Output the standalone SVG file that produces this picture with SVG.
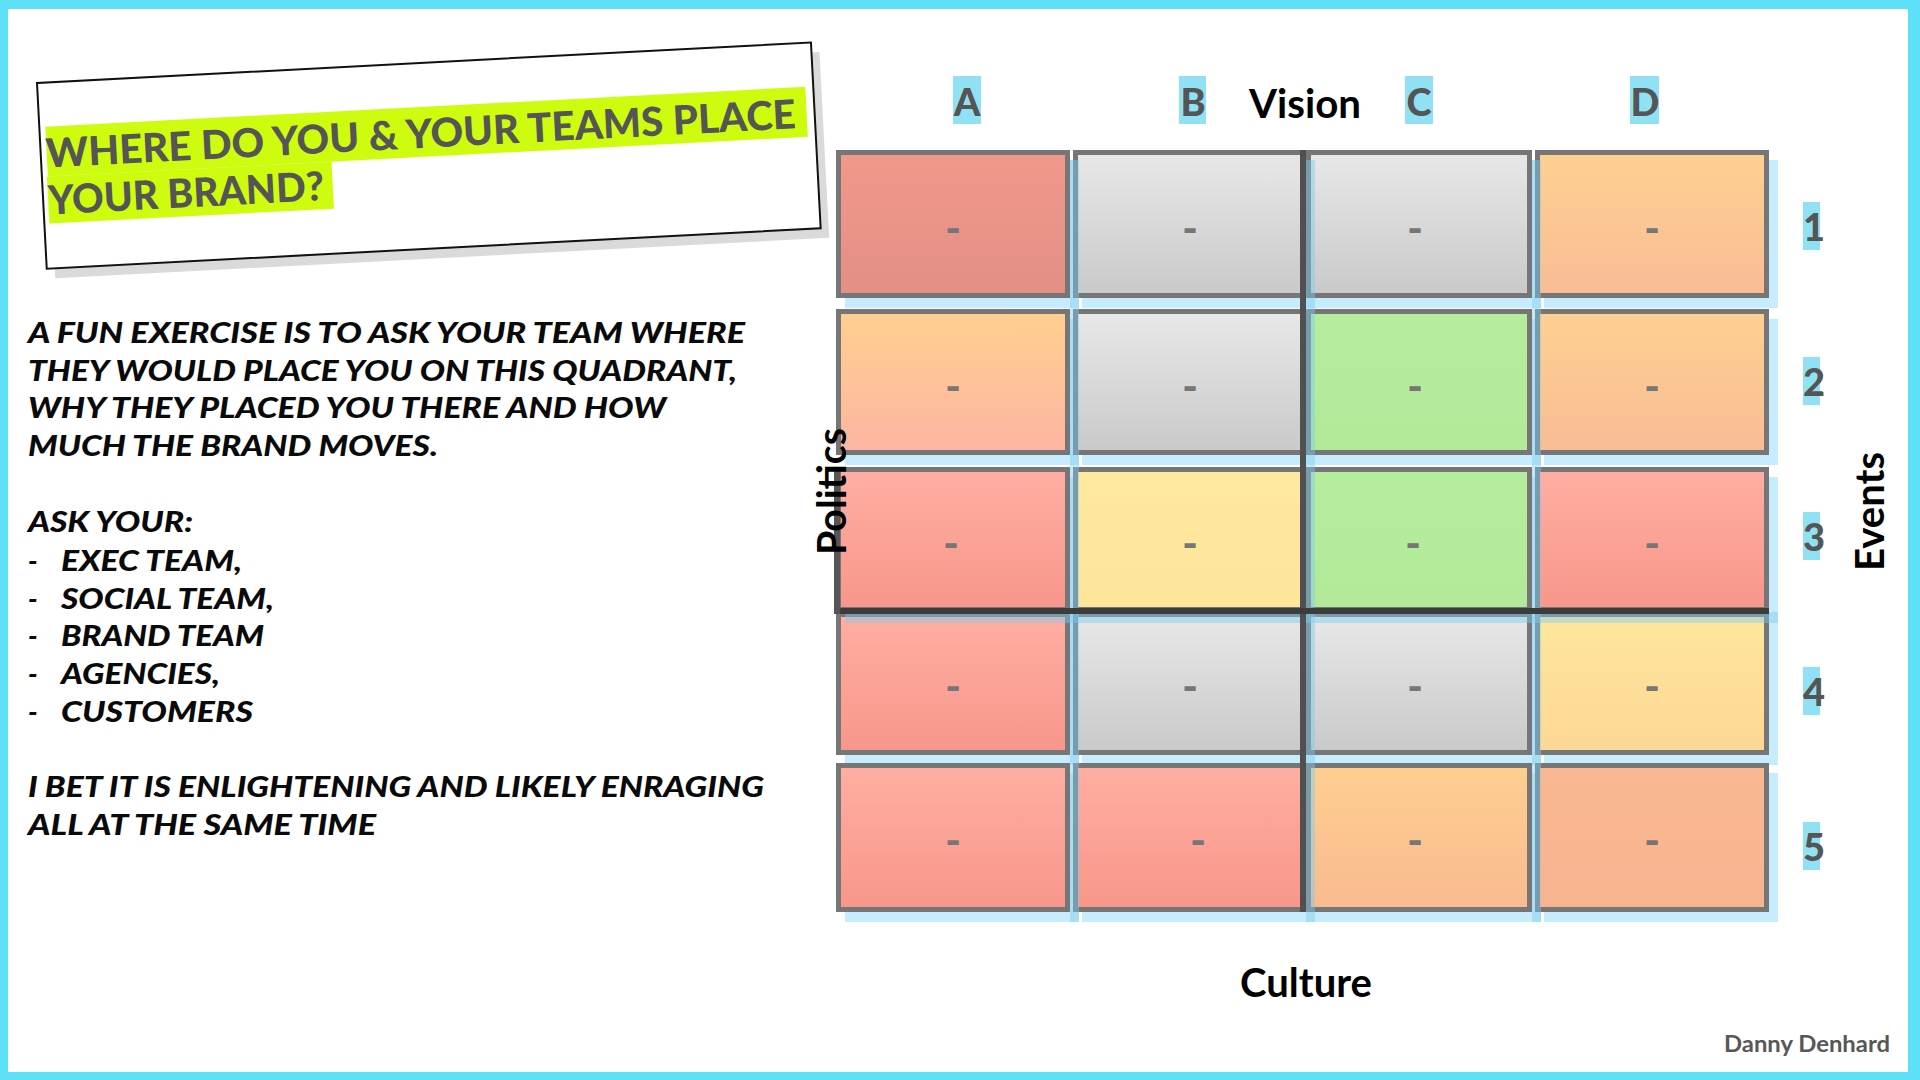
<svg xmlns="http://www.w3.org/2000/svg" width="1920" height="1080" viewBox="0 0 1920 1080">
<style>
.bodytxt{font-family:Lato,"Open Sans",sans-serif;font-weight:900;font-style:italic;font-size:28px;fill:#0a0a0a}
.cell{stroke:#767676;stroke-width:5}
.shadow{fill:#c6ecfd}
.ovl{fill:#7fcdf0;opacity:.45}
.dash{font-family:Lato,sans-serif;font-weight:900;font-size:42px;fill:#767676;text-anchor:middle}
.lblbox{fill:#8fe1f3}
.lbl{font-family:Lato,sans-serif;font-weight:900;font-size:38px;fill:#555;text-anchor:middle}
.axis{font-family:Lato,sans-serif;font-weight:700;font-size:40px;fill:#000}
</style>
<defs>
<linearGradient id="gRed1" x1="0" y1="0" x2="0" y2="1"><stop offset="0" stop-color="#f2988b"/><stop offset="1" stop-color="#e28f86"/></linearGradient>
<linearGradient id="gGray" x1="0" y1="0" x2="0" y2="1"><stop offset="0" stop-color="#e8e8e8"/><stop offset="1" stop-color="#c9c9c9"/></linearGradient>
<linearGradient id="gPeach" x1="0" y1="0" x2="0" y2="1"><stop offset="0" stop-color="#fed091"/><stop offset="1" stop-color="#f9bc95"/></linearGradient>
<linearGradient id="gPeachPink" x1="0" y1="0" x2="0" y2="1"><stop offset="0" stop-color="#ffcf8f"/><stop offset="1" stop-color="#fdb5a2"/></linearGradient>
<linearGradient id="gGreen" x1="0" y1="0" x2="0" y2="1"><stop offset="0" stop-color="#b6ec9d"/><stop offset="1" stop-color="#b2ea9a"/></linearGradient>
<linearGradient id="gRed" x1="0" y1="0" x2="0" y2="1"><stop offset="0" stop-color="#ffaea3"/><stop offset="1" stop-color="#f8968a"/></linearGradient>
<linearGradient id="gYellow" x1="0" y1="0" x2="0" y2="1"><stop offset="0" stop-color="#ffe89f"/><stop offset="1" stop-color="#fde59a"/></linearGradient>
<linearGradient id="gYellow2" x1="0" y1="0" x2="0" y2="1"><stop offset="0" stop-color="#ffe69c"/><stop offset="1" stop-color="#fdd794"/></linearGradient>
<linearGradient id="gPeach2" x1="0" y1="0" x2="0" y2="1"><stop offset="0" stop-color="#fecf91"/><stop offset="1" stop-color="#f9ba8f"/></linearGradient>
<linearGradient id="gSalmon" x1="0" y1="0" x2="0" y2="1"><stop offset="0" stop-color="#f9b892"/><stop offset="1" stop-color="#f8b38f"/></linearGradient>
</defs>

<!-- frame -->
<rect x="0" y="0" width="1920" height="1080" fill="#5ce1f9"/>
<rect x="8" y="9" width="1900" height="1063" fill="#ffffff"/>

<!-- title card -->
<g id="title" transform="translate(37,83) rotate(-3)">
  <rect x="8" y="10" width="775" height="186" fill="#dadada"/>
  <rect x="0" y="0" width="775" height="186" fill="#ffffff" stroke="#111" stroke-width="2"/>
  <rect x="6" y="44" width="761" height="50" fill="#cdfc0f"/>
  <rect x="5" y="94" width="285" height="47" fill="#cdfc0f"/>
  <text x="5" y="85" font-family="Lato, sans-serif" font-weight="900" font-size="40" fill="#555" textLength="751" lengthAdjust="spacingAndGlyphs">WHERE DO YOU &amp; YOUR TEAMS PLACE</text>
  <text x="5" y="132" font-family="Lato, sans-serif" font-weight="900" font-size="40" fill="#555" textLength="276" lengthAdjust="spacingAndGlyphs">YOUR BRAND?</text>
</g>

<!-- body text -->
<g id="body">
  <text class="bodytxt" x="28" y="343" textLength="717" lengthAdjust="spacingAndGlyphs">A FUN EXERCISE IS TO ASK YOUR TEAM WHERE</text>
  <text class="bodytxt" x="28" y="381" textLength="709" lengthAdjust="spacingAndGlyphs">THEY WOULD PLACE YOU ON THIS QUADRANT,</text>
  <text class="bodytxt" x="28" y="418" textLength="638" lengthAdjust="spacingAndGlyphs">WHY THEY PLACED YOU THERE AND HOW</text>
  <text class="bodytxt" x="28" y="456" textLength="410" lengthAdjust="spacingAndGlyphs">MUCH THE BRAND MOVES.</text>
  <text class="bodytxt" x="28" y="532" textLength="165" lengthAdjust="spacingAndGlyphs">ASK YOUR:</text>
  <text class="bodytxt" x="28" y="571">-<tspan x="61" textLength="181" lengthAdjust="spacingAndGlyphs">EXEC TEAM,</tspan></text>
  <text class="bodytxt" x="28" y="609">-<tspan x="61" textLength="213" lengthAdjust="spacingAndGlyphs">SOCIAL TEAM,</tspan></text>
  <text class="bodytxt" x="28" y="646">-<tspan x="61" textLength="203" lengthAdjust="spacingAndGlyphs">BRAND TEAM</tspan></text>
  <text class="bodytxt" x="28" y="684">-<tspan x="61" textLength="159" lengthAdjust="spacingAndGlyphs">AGENCIES,</tspan></text>
  <text class="bodytxt" x="28" y="722">-<tspan x="61" textLength="192" lengthAdjust="spacingAndGlyphs">CUSTOMERS</tspan></text>
  <text class="bodytxt" x="28" y="797" textLength="736" lengthAdjust="spacingAndGlyphs">I BET IT IS ENLIGHTENING AND LIKELY ENRAGING</text>
  <text class="bodytxt" x="28" y="835" textLength="348" lengthAdjust="spacingAndGlyphs">ALL AT THE SAME TIME</text>
</g>

<!-- grid shadows -->
<g id="grid-shadows">
  <rect class="shadow" x="845" y="160" width="234" height="148"/>
  <rect class="shadow" x="1082" y="160" width="233" height="148"/>
  <rect class="shadow" x="1315" y="160" width="226" height="148"/>
  <rect class="shadow" x="1544" y="160" width="234" height="148"/>
  <rect class="shadow" x="845" y="319" width="234" height="146"/>
  <rect class="shadow" x="1082" y="319" width="233" height="146"/>
  <rect class="shadow" x="1315" y="319" width="226" height="146"/>
  <rect class="shadow" x="1544" y="319" width="234" height="146"/>
  <rect class="shadow" x="845" y="477" width="234" height="145"/>
  <rect class="shadow" x="1082" y="477" width="233" height="145"/>
  <rect class="shadow" x="1315" y="477" width="226" height="145"/>
  <rect class="shadow" x="1544" y="477" width="234" height="145"/>
  <rect class="shadow" x="845" y="622" width="234" height="143"/>
  <rect class="shadow" x="1082" y="622" width="233" height="143"/>
  <rect class="shadow" x="1315" y="622" width="226" height="143"/>
  <rect class="shadow" x="1544" y="622" width="234" height="143"/>
  <rect class="shadow" x="845" y="773" width="234" height="149"/>
  <rect class="shadow" x="1082" y="773" width="233" height="149"/>
  <rect class="shadow" x="1315" y="773" width="226" height="149"/>
  <rect class="shadow" x="1544" y="773" width="234" height="149"/>
</g>

<!-- cells -->
<g id="cell-A1"><rect class="cell" x="838.5" y="152.5" width="229" height="143" fill="url(#gRed1)"/><text class="dash" x="953" y="243">-</text></g>
<g id="cell-B1"><rect class="cell" x="1075.5" y="152.5" width="228" height="143" fill="url(#gGray)"/><text class="dash" x="1190" y="243">-</text></g>
<g id="cell-C1"><rect class="cell" x="1308.5" y="152.5" width="221" height="143" fill="url(#gGray)"/><text class="dash" x="1415" y="243">-</text></g>
<g id="cell-D1"><rect class="cell" x="1537.5" y="152.5" width="229" height="143" fill="url(#gPeach)"/><text class="dash" x="1652" y="243">-</text></g>

<g id="cell-A2"><rect class="cell" x="838.5" y="311.5" width="229" height="141" fill="url(#gPeachPink)"/><text class="dash" x="953" y="401">-</text></g>
<g id="cell-B2"><rect class="cell" x="1075.5" y="311.5" width="228" height="141" fill="url(#gGray)"/><text class="dash" x="1190" y="401">-</text></g>
<g id="cell-C2"><rect class="cell" x="1308.5" y="311.5" width="221" height="141" fill="url(#gGreen)"/><text class="dash" x="1415" y="401">-</text></g>
<g id="cell-D2"><rect class="cell" x="1537.5" y="311.5" width="229" height="141" fill="url(#gPeach)"/><text class="dash" x="1652" y="401">-</text></g>

<g id="cell-A4"><rect class="cell" x="838.5" y="614.5" width="229" height="138" fill="url(#gRed)"/><text class="dash" x="953" y="701">-</text></g>
<g id="cell-B4"><rect class="cell" x="1075.5" y="614.5" width="228" height="138" fill="url(#gGray)"/><text class="dash" x="1190" y="701">-</text></g>
<g id="cell-C4"><rect class="cell" x="1308.5" y="614.5" width="221" height="138" fill="url(#gGray)"/><text class="dash" x="1415" y="701">-</text></g>
<g id="cell-D4"><rect class="cell" x="1537.5" y="614.5" width="229" height="138" fill="url(#gYellow2)"/><text class="dash" x="1652" y="701">-</text></g>

<g id="cell-A5"><rect class="cell" x="838.5" y="765.5" width="229" height="144" fill="url(#gRed)"/><text class="dash" x="953" y="855">-</text></g>
<g id="cell-B5"><rect class="cell" x="1075.5" y="765.5" width="228" height="144" fill="url(#gRed)"/><text class="dash" x="1198" y="855">-</text></g>
<g id="cell-C5"><rect class="cell" x="1308.5" y="765.5" width="221" height="144" fill="url(#gPeach2)"/><text class="dash" x="1415" y="855">-</text></g>
<g id="cell-D5"><rect class="cell" x="1537.5" y="765.5" width="229" height="144" fill="url(#gSalmon)"/><text class="dash" x="1652" y="855">-</text></g>

<!-- row 3 shadow band over row 4 top -->
<rect class="ovl" x="845" y="612" width="933" height="11"/>

<g id="cell-A3"><rect class="cell" x="838.5" y="469.5" width="229" height="140" fill="url(#gRed)"/><text class="dash" x="951" y="558">-</text></g>
<g id="cell-B3"><rect class="cell" x="1075.5" y="469.5" width="228" height="140" fill="url(#gYellow)"/><text class="dash" x="1190" y="558">-</text></g>
<g id="cell-C3"><rect class="cell" x="1308.5" y="469.5" width="221" height="140" fill="url(#gGreen)"/><text class="dash" x="1413" y="558">-</text></g>
<g id="cell-D3"><rect class="cell" x="1537.5" y="469.5" width="229" height="140" fill="url(#gRed)"/><text class="dash" x="1652" y="558">-</text></g>

<!-- overlays & dark edges -->
<g id="grid-overlays">
  <rect class="ovl" x="1306" y="160" width="9" height="762"/>
  <rect class="ovl" x="1070" y="160" width="9" height="762"/>
  <rect class="ovl" x="1532" y="160" width="9" height="762"/>
  <rect x="1300" y="150" width="6" height="762" fill="#505050"/>
  <rect x="834" y="608" width="935" height="6" fill="#3c3c3c"/>
  <rect x="834" y="467" width="6" height="147" fill="#555"/>
</g>

<!-- column labels -->
<g id="col-A"><rect class="lblbox" x="953" y="76" width="28" height="48"/><text class="lbl" x="967" y="116">A</text></g>
<g id="col-B"><rect class="lblbox" x="1179" y="76" width="27" height="48"/><text class="lbl" x="1193" y="116">B</text></g>
<g id="col-C"><rect class="lblbox" x="1405" y="76" width="28" height="48"/><text class="lbl" x="1419" y="116">C</text></g>
<g id="col-D"><rect class="lblbox" x="1630" y="76" width="29" height="48"/><text class="lbl" x="1645" y="116">D</text></g>

<!-- row labels -->
<g id="row-1"><rect class="lblbox" x="1803" y="202" width="17" height="48"/><text class="lbl" x="1814" y="241">1</text></g>
<g id="row-2"><rect class="lblbox" x="1803" y="357" width="17" height="48"/><text class="lbl" x="1814" y="396">2</text></g>
<g id="row-3"><rect class="lblbox" x="1803" y="512" width="17" height="48"/><text class="lbl" x="1814" y="551">3</text></g>
<g id="row-4"><rect class="lblbox" x="1803" y="667" width="17" height="48"/><text class="lbl" x="1814" y="706">4</text></g>
<g id="row-5"><rect class="lblbox" x="1803" y="822" width="17" height="48"/><text class="lbl" x="1814" y="861">5</text></g>

<!-- axis labels -->
<text id="vision" class="axis" x="1249" y="118" textLength="112" lengthAdjust="spacingAndGlyphs">Vision</text>
<text id="culture" class="axis" x="1240" y="997" textLength="132" lengthAdjust="spacingAndGlyphs">Culture</text>
<text id="politics" class="axis" font-size="37" transform="translate(846,491.5) rotate(-90)" text-anchor="middle" textLength="127" lengthAdjust="spacingAndGlyphs">Politics</text>
<text id="events" class="axis" font-size="37" transform="translate(1884,511.5) rotate(-90)" text-anchor="middle" textLength="119" lengthAdjust="spacingAndGlyphs">Events</text>

<text id="credit" x="1724" y="1052" font-family="Lato, sans-serif" font-weight="700" font-size="22" fill="#575757" textLength="166" lengthAdjust="spacingAndGlyphs">Danny Denhard</text>
</svg>
